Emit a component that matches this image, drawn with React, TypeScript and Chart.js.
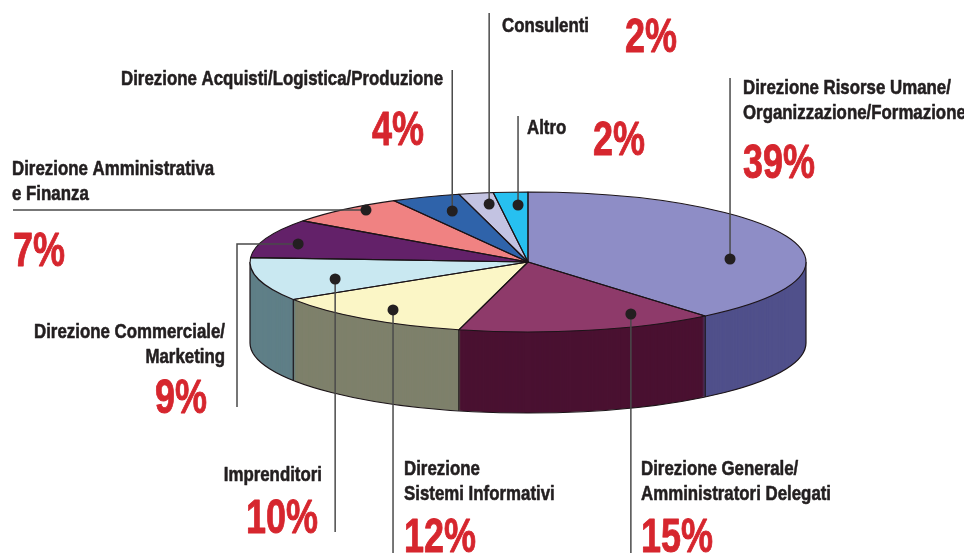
import React, { useEffect, useRef } from "react";
import { Chart, registerables } from "chart.js";

Chart.register(...registerables);

// ---------- data ----------
const categories = [
  "Direzione Risorse Umane/Organizzazione/Formazione",
  "Direzione Generale/Amministratori Delegati",
  "Direzione Sistemi Informativi",
  "Imprenditori",
  "Direzione Commerciale/Marketing",
  "Direzione Amministrativa e Finanza",
  "Direzione Acquisti/Logistica/Produzione",
  "Consulenti",
  "Altro",
];
const values = [39, 15, 12, 10, 9, 7, 4, 2, 2];
const labelLines = [
  ["Direzione Risorse Umane/", "Organizzazione/Formazione"],
  ["Direzione Generale/", "Amministratori Delegati"],
  ["Direzione", "Sistemi Informativi"],
  ["Imprenditori"],
  ["Direzione Commerciale/", "Marketing"],
  ["Direzione Amministrativa", "e Finanza"],
  ["Direzione Acquisti/Logistica/Produzione"],
  ["Consulenti"],
  ["Altro"],
];
const topColors = ["#8E8DC6", "#8E3A6A", "#FBF6C6", "#C9E8F1", "#632169", "#F08282", "#2F63AA", "#C3C3E2", "#27C0F0"];
const sideColors = ["#50508B", "#4A1131", "#7E806B", "#5F7F87", "#3B1141", "#8E4A4A", "#1B3B6B", "#74749A", "#177296"];

// ---------- layout ----------
const PIE_CX = 528;
const PIE_CY = 262;
const PIE_RX = 278;
const PIE_RY = 70;
const DEPTH = 81;
const EDGE = "#1c1418";
const TEXT_COLOR = "#231F20";
const PCT_COLOR = "#D6262E";
const FONT = "'Liberation Sans', Arial, sans-serif";
const LABEL_SIZE = 21;
const PCT_SIZE = 49;
const LABEL_WEIGHT = 0.6;
const PCT_WEIGHT = 0.9;
// reference widths used to condense the font horizontally
const LABEL_REF_TEXT = "Direzione Acquisti/Logistica/Produzione";
const LABEL_REF_WIDTH = 322;
const PCT_REF_TEXT = "39%";
const PCT_REF_WIDTH = 72;

// anchor of each leader dot inside its slice: [fraction of slice angle, fraction of radius]
const anchors = [
  [0.617, 0.728],
  [0.243, 0.83],
  [0.484, 0.84],
  [0.364, 0.735],
  [0.423, 0.866],
  [0.63, 0.944],
  [0.576, 0.778],
  [0.67, 0.84],
  [0.65, 0.815],
];
// leader routes after the dot
const routes: { x?: number; y?: number }[][] = [
  [{ y: 78 }],
  [{ y: 553 }],
  [{ y: 553 }],
  [{ y: 532 }],
  [{ x: 237 }, { y: 407 }],
  [{ x: 13 }],
  [{ y: 70 }],
  [{ y: 13 }],
  [{ y: 116 }],
];
// text placement: [x, first baseline, align, pctX, pctBaseline, pctAlign]
const textPos: [number, number, CanvasTextAlign, number, number, CanvasTextAlign][] = [
  [743, 94, "left", 743, 178, "left"],
  [641, 475, "left", 641, 552, "left"],
  [404, 475, "left", 404, 552, "left"],
  [322, 481, "right", 318, 533, "right"],
  [225, 338, "right", 207, 413, "right"],
  [12, 175, "left", 13, 266, "left"],
  [443, 85, "right", 424, 145, "right"],
  [502, 32, "left", 625, 52, "left"],
  [527, 134, "left", 593, 155, "left"],
];
const LINE_GAP = 24.5;

function geom(chart: any) {
  const arcs = chart.getDatasetMeta(0).data as any[];
  const a0 = arcs[0];
  return { arcs, cx: a0.x as number, cy: a0.y as number, R: a0.outerRadius as number };
}
function applyT(ctx: CanvasRenderingContext2D, g: any, dy: number) {
  ctx.translate(PIE_CX, PIE_CY + dy);
  ctx.scale(PIE_RX / g.R, PIE_RY / g.R);
  ctx.translate(-g.cx, -g.cy);
}
function mapPt(g: any, ang: number, r: number, dy = 0) {
  const px = g.cx + Math.cos(ang) * r;
  const py = g.cy + Math.sin(ang) * r;
  return {
    x: PIE_CX + (px - g.cx) * (PIE_RX / g.R),
    y: PIE_CY + dy + (py - g.cy) * (PIE_RY / g.R),
  };
}
function condenseFor(ctx: CanvasRenderingContext2D, size: number, text: string, target: number) {
  ctx.save();
  ctx.font = `bold ${size}px ${FONT}`;
  const w = ctx.measureText(text).width;
  ctx.restore();
  return w > 0 ? target / w : 1;
}
function drawText(ctx: CanvasRenderingContext2D, text: string, x: number, y: number, align: CanvasTextAlign, size: number, color: string, sx: number, weight: number) {
  ctx.save();
  ctx.font = `bold ${size}px ${FONT}`;
  ctx.fillStyle = color;
  ctx.strokeStyle = color;
  ctx.textAlign = align;
  ctx.textBaseline = "alphabetic";
  ctx.translate(x, y);
  ctx.scale(sx, 1);
  ctx.fillText(text, 0, 0);
  ctx.lineWidth = weight;
  ctx.lineJoin = "round";
  ctx.strokeText(text, 0, 0);
  ctx.restore();
}

const pie3d = {
  id: "pie3d",
  beforeDatasetsDraw(chart: any) {
    const ctx: CanvasRenderingContext2D = chart.ctx;
    const g = geom(chart);
    for (let d = DEPTH; d >= 1; d--) {
      ctx.save();
      applyT(ctx, g, d);
      g.arcs.forEach((a: any, i: number) => {
        ctx.beginPath();
        ctx.moveTo(g.cx, g.cy);
        ctx.arc(g.cx, g.cy, g.R, a.startAngle, a.endAngle);
        ctx.closePath();
        ctx.fillStyle = sideColors[i];
        ctx.fill();
      });
      ctx.restore();
    }
    ctx.save();
    ctx.beginPath();
    ctx.save();
    applyT(ctx, g, DEPTH);
    ctx.arc(g.cx, g.cy, g.R, 0, Math.PI);
    ctx.restore();
    ctx.strokeStyle = EDGE;
    ctx.lineWidth = 1.2;
    ctx.stroke();
    const angles = [0, Math.PI, ...g.arcs.map((a: any) => a.startAngle)];
    angles.forEach((ang) => {
      if (Math.sin(ang) < -1e-6) return;
      const p = mapPt(g, ang, g.R);
      ctx.beginPath();
      ctx.moveTo(p.x, p.y);
      ctx.lineTo(p.x, p.y + DEPTH);
      ctx.stroke();
    });
    ctx.restore();
    // transform for chart.js top face drawing
    ctx.save();
    applyT(ctx, g, 0);
  },
  afterDatasetsDraw(chart: any) {
    const ctx: CanvasRenderingContext2D = chart.ctx;
    ctx.restore();
    const g = geom(chart);
    ctx.save();
    ctx.strokeStyle = EDGE;
    ctx.lineWidth = 1.1;
    ctx.lineJoin = "round";
    g.arcs.forEach((a: any) => {
      ctx.beginPath();
      ctx.save();
      applyT(ctx, g, 0);
      ctx.moveTo(g.cx, g.cy);
      ctx.arc(g.cx, g.cy, g.R, a.startAngle, a.endAngle);
      ctx.closePath();
      ctx.restore();
      ctx.stroke();
    });
    ctx.restore();
  },
  afterDraw(chart: any) {
    const ctx: CanvasRenderingContext2D = chart.ctx;
    const g = geom(chart);
    const labelSx = condenseFor(ctx, LABEL_SIZE, LABEL_REF_TEXT, LABEL_REF_WIDTH);
    const pctSx = condenseFor(ctx, PCT_SIZE, PCT_REF_TEXT, PCT_REF_WIDTH);
    ctx.save();
    g.arcs.forEach((a: any, i: number) => {
      const [t, rf] = anchors[i];
      const ang = a.startAngle + (a.endAngle - a.startAngle) * t;
      const p = mapPt(g, ang, g.R * rf);
      ctx.beginPath();
      ctx.moveTo(p.x, p.y);
      let cur = { x: p.x, y: p.y };
      routes[i].forEach((w) => {
        cur = { x: w.x ?? cur.x, y: w.y ?? cur.y };
        ctx.lineTo(cur.x, cur.y);
      });
      ctx.strokeStyle = "#4a4a4a";
      ctx.lineWidth = 1.5;
      ctx.stroke();
      ctx.beginPath();
      ctx.arc(p.x, p.y, 5.5, 0, Math.PI * 2);
      ctx.fillStyle = TEXT_COLOR;
      ctx.fill();

      const [tx, ty, ta, px, py, pa] = textPos[i];
      labelLines[i].forEach((line, k) => drawText(ctx, line, tx, ty + k * LINE_GAP, ta, LABEL_SIZE, TEXT_COLOR, labelSx, LABEL_WEIGHT));
      drawText(ctx, `${values[i]}%`, px, py, pa, PCT_SIZE, PCT_COLOR, pctSx, PCT_WEIGHT);
    });
    ctx.restore();
  },
};

export default function App() {
  const ref = useRef<HTMLCanvasElement>(null);
  useEffect(() => {
    const canvas = ref.current;
    if (!canvas) return;
    const chart = new Chart(canvas, {
      type: "pie",
      data: {
        labels: categories,
        datasets: [
          {
            data: values,
            backgroundColor: topColors,
            borderWidth: 0,
            hoverOffset: 0,
            clip: false as any,
          },
        ],
      },
      options: {
        responsive: false,
        animation: false,
        events: [],
        layout: { padding: 0 },
        plugins: { legend: { display: false }, tooltip: { enabled: false } },
      },
      plugins: [pie3d as any],
    });
    return () => chart.destroy();
  }, []);
  return (
    <div style={{ position: "fixed", left: 0, top: 0, width: 964, height: 553, background: "#fff" }}>
      <canvas ref={ref} width={964} height={553} style={{ display: "block", width: 964, height: 553 }} />
    </div>
  );
}
